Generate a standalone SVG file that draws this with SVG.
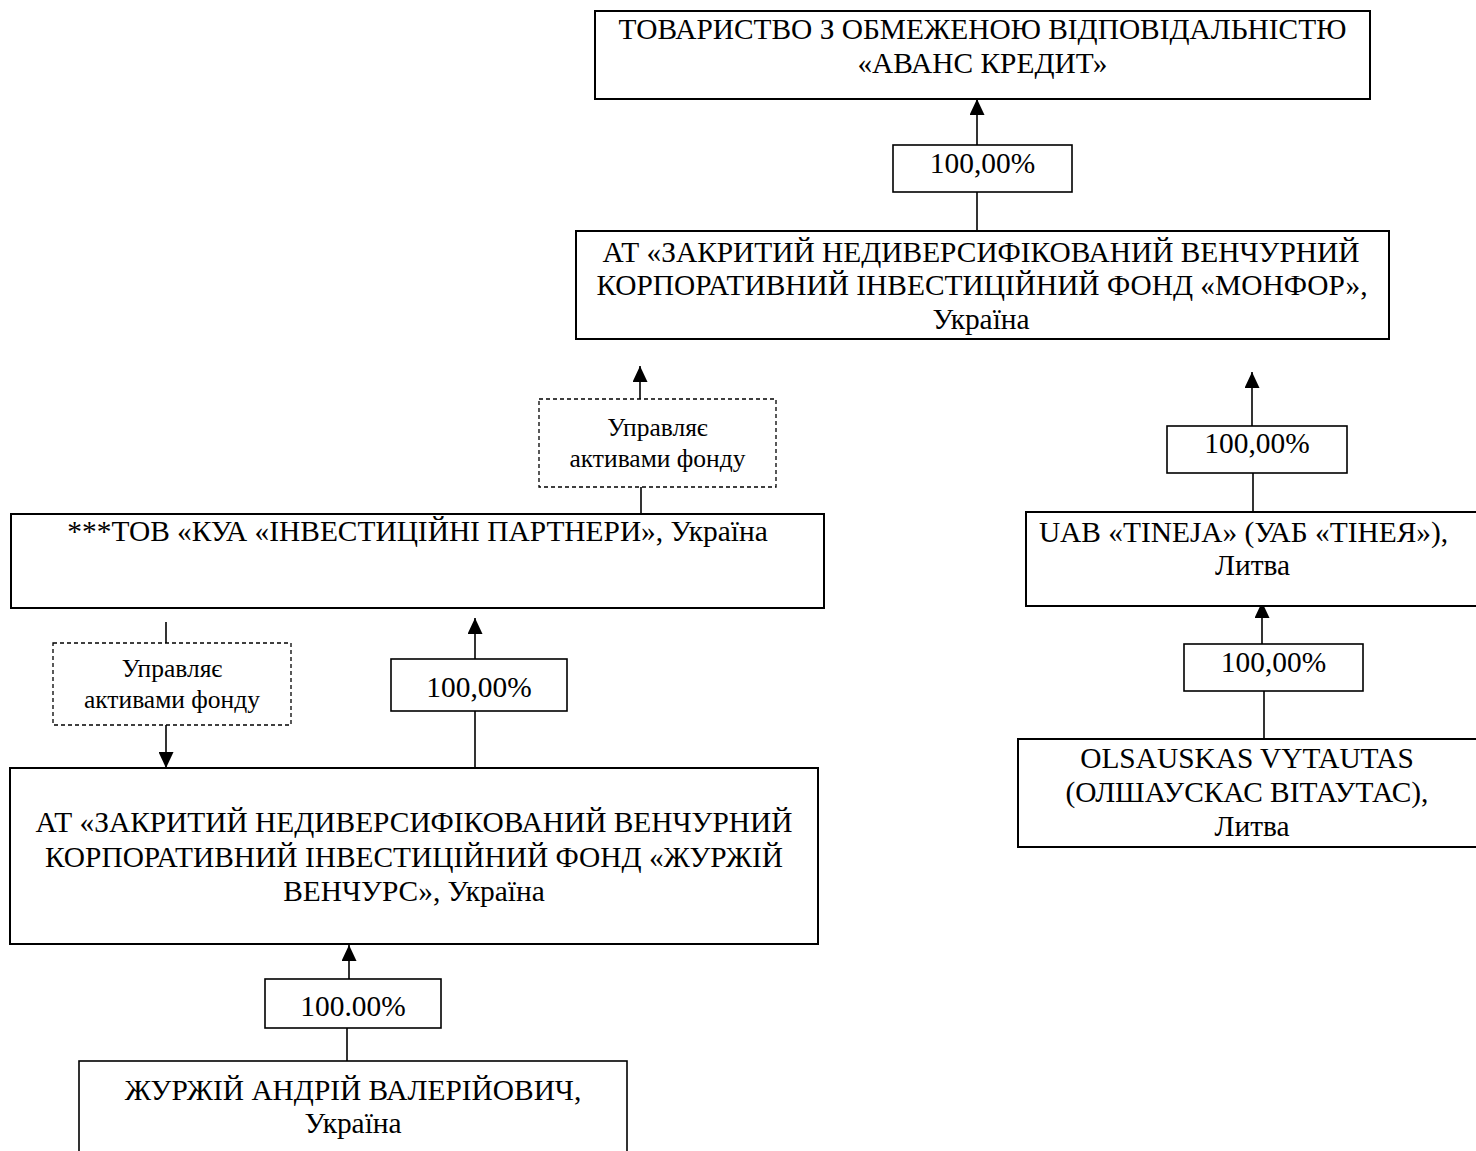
<svg xmlns="http://www.w3.org/2000/svg" width="1476" height="1151" viewBox="0 0 1476 1151">
<defs>
<style>
.box{fill:#fff;stroke:#000;stroke-width:2}
.lbl{fill:#fff;stroke:#000;stroke-width:1.6}
.dash{fill:#fff;stroke:#000;stroke-width:1.3;stroke-dasharray:4 3}
.t{font-family:"Liberation Serif","Times New Roman",serif;font-size:29.4px;fill:#000;text-anchor:middle}
.ts{font-size:25.5px}
.conn line{stroke:#000;stroke-width:1.6}
</style>
<marker id="arr" viewBox="0 0 16 15" refX="16" refY="7.5" markerWidth="16" markerHeight="15" markerUnits="userSpaceOnUse" orient="auto">
<path d="M0,0 L16,7.5 L0,15 z" fill="#000"/>
</marker>
</defs>
<rect width="1476" height="1151" fill="#fff"/>
<g id="connectors" class="conn">
<line x1="977" y1="145" x2="977" y2="99" marker-end="url(#arr)"/>
<line x1="977" y1="231" x2="977" y2="192"/>
<line x1="640" y1="399" x2="640" y2="366" marker-end="url(#arr)"/>
<line x1="641" y1="514" x2="641" y2="487"/>
<line x1="1252" y1="426" x2="1252" y2="372" marker-end="url(#arr)"/>
<line x1="1253" y1="512" x2="1253" y2="473"/>
<line x1="1262" y1="644" x2="1262" y2="602" marker-end="url(#arr)"/>
<line x1="1264" y1="739" x2="1264" y2="691"/>
<line x1="166" y1="622" x2="166" y2="643"/>
<line x1="166" y1="725" x2="166" y2="768" marker-end="url(#arr)"/>
<line x1="475" y1="659" x2="475" y2="618" marker-end="url(#arr)"/>
<line x1="475" y1="768" x2="475" y2="711"/>
<line x1="349" y1="979" x2="349" y2="945" marker-end="url(#arr)"/>
<line x1="347" y1="1061" x2="347" y2="1028"/>
</g>
<g id="avans">
<rect class="box" x="595" y="11" width="775" height="88"/>
<text class="t" x="982.5" y="39">ТОВАРИСТВО З ОБМЕЖЕНОЮ ВІДПОВІДАЛЬНІСТЮ</text>
<text class="t" x="982.5" y="73">«АВАНС КРЕДИТ»</text>
</g>
<g id="lbl1">
<rect class="lbl" x="893" y="145" width="179" height="47"/>
<text class="t" x="982.5" y="173">100,00%</text>
</g>
<g id="monfor">
<rect class="box" x="576" y="231" width="813" height="108"/>
<text class="t" x="981" y="262">АТ «ЗАКРИТИЙ НЕДИВЕРСИФІКОВАНИЙ ВЕНЧУРНИЙ</text>
<text class="t" x="982" y="295">КОРПОРАТИВНИЙ ІНВЕСТИЦІЙНИЙ ФОНД «МОНФОР»,</text>
<text class="t" x="981" y="329">Україна</text>
</g>
<g id="dash1">
<rect class="dash" x="539" y="399" width="237" height="88"/>
<text class="t ts" x="657.5" y="436">Управляє</text>
<text class="t ts" x="657.5" y="467">активами фонду</text>
</g>
<g id="kua">
<rect class="box" x="11" y="514" width="813" height="94"/>
<text class="t" x="417.5" y="541">***ТОВ «КУА «ІНВЕСТИЦІЙНІ ПАРТНЕРИ», Україна</text>
</g>
<g id="dash2">
<rect class="dash" x="53" y="643" width="238" height="82"/>
<text class="t ts" x="172" y="677">Управляє</text>
<text class="t ts" x="172" y="708">активами фонду</text>
</g>
<g id="lbl2">
<rect class="lbl" x="391" y="659" width="176" height="52"/>
<text class="t" x="479" y="697">100,00%</text>
</g>
<g id="zhurzhiy-ventures">
<rect class="box" x="10" y="768" width="808" height="176"/>
<text class="t" x="414" y="832">АТ «ЗАКРИТИЙ НЕДИВЕРСИФІКОВАНИЙ ВЕНЧУРНИЙ</text>
<text class="t" x="414" y="867">КОРПОРАТИВНИЙ ІНВЕСТИЦІЙНИЙ ФОНД «ЖУРЖІЙ</text>
<text class="t" x="414" y="901">ВЕНЧУРС», Україна</text>
</g>
<g id="lbl3">
<rect class="lbl" x="265" y="979" width="176" height="49"/>
<text class="t" x="353" y="1016">100.00%</text>
</g>
<g id="zhurzhiy">
<rect class="lbl" x="79" y="1061" width="548" height="110"/>
<text class="t" x="353" y="1100">ЖУРЖІЙ АНДРІЙ ВАЛЕРІЙОВИЧ,</text>
<text class="t" x="353" y="1133">Україна</text>
</g>
<g id="lbl4">
<rect class="lbl" x="1167" y="426" width="180" height="47"/>
<text class="t" x="1257" y="453">100,00%</text>
</g>
<g id="tineja">
<rect class="box" x="1026" y="512" width="454" height="94"/>
<text class="t" x="1243.5" y="542">UAB «TINEJA» (УАБ «ТІНЕЯ»),</text>
<text class="t" x="1252.5" y="575">Литва</text>
</g>
<g id="lbl5">
<rect class="lbl" x="1184" y="644" width="179" height="47"/>
<text class="t" x="1273.5" y="672">100,00%</text>
</g>
<g id="olsauskas">
<rect class="box" x="1018" y="739" width="462" height="108"/>
<text class="t" x="1247" y="768">OLSAUSKAS VYTAUTAS</text>
<text class="t" x="1247" y="802">(ОЛШАУСКАС ВІТАУТАС),</text>
<text class="t" x="1252" y="836">Литва</text>
</g>
</svg>
